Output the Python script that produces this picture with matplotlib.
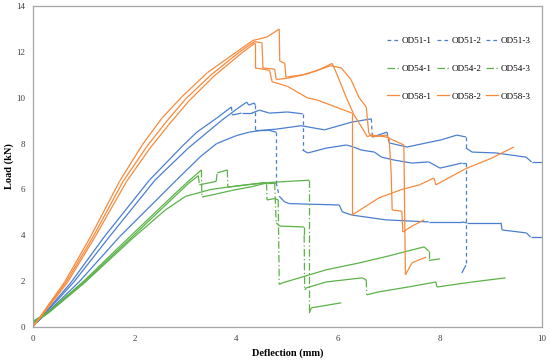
import matplotlib
matplotlib.use('Agg')
import matplotlib.pyplot as plt
from matplotlib.collections import LineCollection
from matplotlib.lines import Line2D

plt.rcParams['font.family'] = ['Liberation Serif', 'DejaVu Serif']

# ---- OD51 (blue, dashed) ----
od51_1_x = [0.08, 0.75, 1.4, 2.29, 2.94, 3.22, 3.61, 3.9, 3.92, 4.1, 4.3, 4.45, 4.65, 5.0, 5.3, 5.3,
            5.4, 5.76, 6.16, 6.3, 6.45, 6.71, 6.85, 7.1, 7.45, 7.78, 8.0, 8.43, 8.51, 8.51, 8.43]
od51_1_y = [0.2, 1.95, 3.93, 6.41, 7.9, 8.5, 9.11, 9.6, 9.25, 9.33, 9.33, 9.46, 9.33, 9.38, 9.3, 7.72,
            7.59, 7.8, 7.94, 7.85, 7.72, 7.63, 7.41, 7.28, 7.15, 7.2, 6.93, 7.15, 7.15, 2.7, 2.35]
od51_2_x = [0.08, 0.8, 1.5, 2.4, 3.05, 3.7, 4.0, 4.2, 4.24, 4.35, 4.37, 4.37, 4.6, 4.78, 4.78, 4.84,
            4.95, 5.04, 6.02, 6.08, 6.27, 6.94, 7.78, 8.43, 8.53, 9.2, 9.22, 9.7, 9.78, 10.0]
od51_2_y = [0.2, 1.95, 3.93, 6.41, 7.8, 9.0, 9.5, 9.81, 9.68, 9.77, 9.68, 8.6, 8.6, 8.5, 6.3, 5.7,
            5.45, 5.38, 5.32, 5.02, 4.88, 4.67, 4.58, 4.58, 4.54, 4.54, 4.23, 4.1, 3.92, 3.92]
od51_3_x = [0.08, 0.9, 1.7, 2.82, 3.3, 3.61, 4.0, 4.25, 4.5, 4.78, 5.27, 5.73, 6.27, 6.65, 6.67, 6.96,
            7.0, 7.35, 7.82, 8.02, 8.33, 8.51, 8.51, 8.63, 9.1, 9.69, 9.8, 10.0]
od51_3_y = [0.2, 1.95, 3.93, 6.41, 7.45, 8.0, 8.35, 8.5, 8.58, 8.63, 8.78, 8.6, 8.94, 9.08, 8.29, 8.5,
            8.03, 7.85, 8.07, 8.16, 8.37, 8.29, 7.81, 7.63, 7.59, 7.41, 7.2, 7.2]

# ---- OD54 (green, dash-dot) ----
od54_1_x = [0.0, 0.3, 1.0, 1.9, 2.5, 3.0, 3.31, 3.32, 3.5, 3.9, 4.3, 4.59, 4.6, 4.75, 4.82, 4.84,
            4.9, 5.1, 5.76, 6.41, 7.0, 7.45, 7.69, 7.78, 7.78, 8.0]
od54_1_y = [0.25, 0.65, 2.0, 3.93, 5.2, 6.25, 6.85, 5.67, 5.75, 5.95, 6.12, 6.28, 5.54, 5.6, 5.54, 1.85,
            1.92, 2.05, 2.49, 2.79, 3.1, 3.36, 3.49, 3.3, 2.9, 2.97]
od54_2_x = [0.0, 0.3, 1.0, 1.95, 2.55, 3.05, 3.25, 3.27, 3.6, 3.62, 3.82, 3.83, 4.2, 4.6, 4.75, 4.78,
            4.85, 5.33, 5.33, 5.34, 5.37, 5.76, 6.47, 6.55, 6.56, 6.8, 7.4, 7.92, 7.94, 8.6, 9.29]
od54_2_y = [0.2, 0.62, 1.95, 3.93, 5.2, 6.25, 6.6, 6.2, 6.35, 6.72, 6.85, 6.1, 6.2, 6.3, 6.3, 4.54,
            4.4, 4.36, 4.0, 1.61, 1.7, 1.96, 2.14, 2.05, 1.4, 1.53, 1.75, 1.96, 1.74, 1.95, 2.14]
od54_3_x = [0.0, 0.3, 1.0, 1.95, 2.6, 3.0, 3.5, 4.0, 4.5, 5.0, 5.43, 5.43, 5.47, 6.06]
od54_3_y = [0.15, 0.6, 1.9, 3.85, 5.1, 5.7, 6.0, 6.15, 6.28, 6.35, 6.4, 0.6, 0.83, 1.05]

# ---- OD58 (orange, solid) ----
od58_1_x = [0.0, 0.3, 0.62, 1.13, 1.7, 2.15, 2.53, 2.93, 3.43, 4.0, 4.32, 4.6, 4.84, 4.85, 4.95, 4.97,
            5.3, 5.6, 5.88, 5.96, 6.16, 6.31, 6.47, 6.57, 6.65, 6.94, 7.29, 7.32, 7.45, 7.73]
od58_1_y = [0.0, 0.95, 1.95, 3.93, 6.35, 7.95, 9.1, 10.05, 11.1, 12.0, 12.5, 12.65, 13.0, 11.6, 11.5, 10.9,
            11.0, 11.2, 11.5, 11.1, 10.0, 9.25, 8.68, 8.3, 8.37, 8.29, 7.94, 2.27, 2.8, 3.05]
od58_2_x = [0.0, 0.3, 0.65, 1.18, 1.77, 2.23, 2.6, 3.0, 3.5, 4.06, 4.35, 4.5, 4.52, 4.75, 4.78, 5.0,
            5.4, 5.85, 6.06, 6.25, 6.41, 6.55, 6.6, 6.67, 6.94, 7.0, 7.04, 7.06, 7.25, 7.27, 7.45, 7.69]
od58_2_y = [0.0, 0.9, 1.95, 3.93, 6.35, 7.85, 8.9, 9.95, 11.0, 12.0, 12.45, 12.4, 11.3, 11.25, 10.8, 10.85,
            11.05, 11.4, 11.3, 10.8, 10.0, 9.6, 8.46, 8.29, 8.37, 8.24, 6.72, 5.1, 5.05, 4.14, 4.4, 4.67]
od58_3_x = [0.0, 0.3, 0.68, 1.22, 1.84, 2.3, 2.66, 3.06, 3.56, 4.1, 4.37, 4.37, 4.65, 4.7, 5.0, 5.39,
            5.59, 6.27, 6.27, 6.8, 7.25, 7.6, 7.88, 7.92, 8.5, 9.0, 9.45]
od58_3_y = [0.0, 0.85, 1.95, 3.93, 6.35, 7.8, 8.8, 9.85, 10.95, 11.95, 12.4, 11.3, 11.2, 10.7, 10.5, 10.0,
            9.9, 9.33, 4.88, 5.63, 6.0, 6.2, 6.5, 6.2, 6.9, 7.35, 7.85]

names = ['OD51-1', 'OD51-2', 'OD51-3', 'OD54-1', 'OD54-2', 'OD54-3', 'OD58-1', 'OD58-2', 'OD58-3']
xs = [od51_1_x, od51_2_x, od51_3_x, od54_1_x, od54_2_x, od54_3_x, od58_1_x, od58_2_x, od58_3_x]
ys = [od51_1_y, od51_2_y, od51_3_y, od54_1_y, od54_2_y, od54_3_y, od58_1_y, od58_2_y, od58_3_y]

blue = '#4a7fd0'
green = '#5cb248'
orange = '#f78a3d'
dash = (0, (3, 2.5))
dashdot = (0, (6, 2, 1, 2))
colors = [blue] * 3 + [green] * 3 + [orange] * 3
styles = [dash] * 3 + [dashdot] * 3 + ['solid'] * 3

fig = plt.figure(figsize=(5.5, 3.6), dpi=100)
ax = fig.add_axes([0.06, 0.092, 0.925, 0.891])
ax.set_xlim(0, 10)
ax.set_ylim(0, 14)

# Excel restarts the dash pattern on every segment, so only the long drops show gaps
for x, y, c, ls in zip(xs, ys, colors, styles):
    pts = ax.transData.transform(list(zip(x, y)))
    segs, seg_ls = [], []
    for i in range(len(x) - 1):
        segs.append([(x[i], y[i]), (x[i + 1], y[i + 1])])
        dxp = abs(pts[i + 1][0] - pts[i][0])
        dyp = abs(pts[i + 1][1] - pts[i][1])
        seg_ls.append(ls if (dxp < 4 and dyp > 8) else 'solid')
    ax.add_collection(LineCollection(segs, colors=c, linewidths=0.9, linestyles=seg_ls))

ax.set_xticks(range(0, 11, 2))
ax.set_yticks(range(0, 15, 2))
ax.tick_params(length=0, labelsize=6.5, labelcolor='#404040', pad=5.5)
for s in ax.spines.values():
    s.set_color('#a6a6a6')
    s.set_linewidth(0.9)

ax.set_xlabel('Deflection (mm)', fontsize=7.5, fontweight='bold', labelpad=4)
ax.set_ylabel('Load (kN)', fontsize=7.5, fontweight='bold', labelpad=1.5)

handles = [Line2D([], [], color=c, lw=0.9, linestyle=ls) for c, ls in zip(colors, styles)]
order = [0, 3, 6, 1, 4, 7, 2, 5, 8]
ax.legend([handles[i] for i in order], [names[i] for i in order], ncol=3, frameon=False,
          fontsize=6.6, loc='upper right', bbox_to_anchor=(0.995, 0.93),
          handlelength=1.3, handletextpad=0.3, columnspacing=0.55, labelspacing=2.1)

fig.savefig('out.png', dpi=100)
